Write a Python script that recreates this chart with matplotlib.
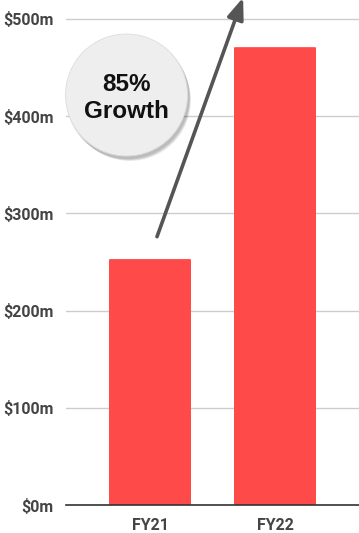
import matplotlib
matplotlib.use("Agg")
import matplotlib.pyplot as plt
from matplotlib.patches import Circle, FancyBboxPatch

plt.rcParams["font.family"] = ["Roboto", "DejaVu Sans"]

# revenue by fiscal year, $m
years = ["FY21", "FY22"]
revenue = [253, 471]
ticks = [0, 100, 200, 300, 400, 500]
tick_labels = ["$0m", "$100m", "$200m", "$300m", "$400m", "$500m"]
growth_label = "85%\nGrowth"

bar_color = "#ff4a4a"
text_color = "#444444"

W, H = 359, 533
fig = plt.figure(figsize=(W / 100, H / 100), dpi=100)
ax = fig.add_axes([66 / W, (H - 505) / H, (W - 66) / W, 505 / H])

x = list(range(len(years)))
bw = 0.656
for xi, v in zip(x, revenue):
    ax.add_patch(FancyBboxPatch((xi - bw / 2, 0), bw, v,
                                boxstyle="round,pad=0,rounding_size=0.01",
                                mutation_aspect=80,
                                facecolor=bar_color, edgecolor="none", zorder=3))

ax.set_xlim(-0.672, 1.672)
ax.set_ylim(0, 519.5)

ax.set_yticks(ticks)
ax.set_yticklabels(tick_labels)
ax.set_xticks(x)
ax.set_xticklabels(years)
ax.tick_params(axis="y", length=0, pad=9, labelsize=11.5, labelcolor=text_color)
ax.tick_params(axis="x", length=0, pad=9, labelsize=11.5, labelcolor=text_color)
for lab in ax.get_xticklabels() + ax.get_yticklabels():
    lab.set_fontweight("bold")

ax.grid(axis="y", color="#cccccc", linewidth=1, zorder=0)
for s in ["top", "right", "left"]:
    ax.spines[s].set_visible(False)
ax.spines["bottom"].set_color("#333333")
ax.spines["bottom"].set_linewidth(1.2)
ax.spines["bottom"].set_zorder(4)

# growth arrow
ax.annotate("", xy=(0.745, 522), xytext=(0.056, 276),
            arrowprops=dict(arrowstyle="-|>,head_length=1.3,head_width=0.5",
                            color="#555555", linewidth=2.6,
                            shrinkA=0, shrinkB=0),
            annotation_clip=False, zorder=5)

# growth badge with soft drop shadow (inches from bottom-left)
cx, cy, r = 1.265, (H - 95) / 100, 0.61
for i in range(8):
    fig.patches.append(Circle((cx + 0.01 + i * 0.004, cy - 0.02 - i * 0.005),
                              r + 0.01 - i * 0.002,
                              transform=fig.dpi_scale_trans,
                              facecolor="#000000", alpha=0.035,
                              edgecolor="none", zorder=6))
fig.patches.append(Circle((cx, cy), r, transform=fig.dpi_scale_trans,
                          facecolor="#eeeeee", edgecolor="#dddddd",
                          linewidth=0.6, zorder=7))
fig.text(cx * 100 / W, (H - 98) / H, growth_label, ha="center", va="center",
         fontsize=17.5, fontweight="bold", color="#111111",
         linespacing=1.2, zorder=8, family=["Liberation Sans", "DejaVu Sans"])

fig.savefig("out.png", dpi=100)
